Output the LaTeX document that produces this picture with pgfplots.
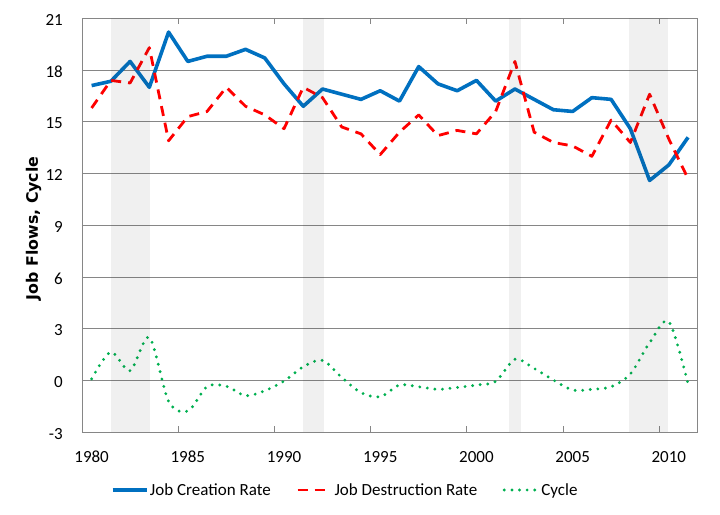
\documentclass[border=0pt]{standalone}
\usepackage{pgfplots}
\pgfplotsset{compat=1.18}
\usepackage{fontspec}
\setmainfont{Carlito}
\newfontfamily\labfont{DejaVu Sans}
\definecolor{jcblue}{HTML}{0070C0}
\definecolor{jdred}{HTML}{FF0000}
\definecolor{cygreen}{HTML}{00B050}
\definecolor{gridgray}{HTML}{868686}
\pgfplotstableread{
x jc jd cy
1980.5 17.1 15.8 0.1
1981.5 17.35 17.4 1.65
1982.5 18.5 17.25 0.57
1983.5 17.0 19.3 2.5
1984.5 20.2 13.9 -1.2
1985.5 18.5 15.3 -1.77
1986.5 18.8 15.6 -0.35
1987.5 18.8 17.0 -0.33
1988.5 19.2 15.9 -0.88
1989.5 18.7 15.4 -0.59
1990.5 17.2 14.6 -0.03
1991.5 15.9 17.0 0.8
1992.5 16.9 16.4 1.17
1993.5 16.6 14.7 0.18
1994.5 16.3 14.3 -0.7
1995.5 16.8 13.1 -0.94
1996.5 16.2 14.4 -0.26
1997.5 18.2 15.4 -0.36
1998.5 17.2 14.2 -0.51
1999.5 16.8 14.5 -0.4
2000.5 17.4 14.3 -0.26
2001.5 16.2 15.6 -0.05
2002.5 16.9 18.5 1.23
2003.5 16.3 14.4 0.7
2004.5 15.7 13.8 0.03
2005.5 15.6 13.6 -0.55
2006.5 16.4 13.0 -0.51
2007.5 16.3 15.1 -0.36
2008.5 14.6 13.8 0.38
2009.5 11.6 16.6 2.19
2010.5 12.5 14.0 3.41
2011.5 14.1 11.7 -0.2
}\data
\begin{document}
\begin{tikzpicture}
\useasboundingbox (-82pt,-81.7pt) rectangle (638pt,432.3pt);
\begin{axis}[
  scale only axis,
  width=615.7pt, height=414pt,
  xmin=1980, xmax=2012,
  ymin=-3, ymax=21,
  axis line style={gridgray, line width=0.8pt},
  ytick={-3,0,...,21},
  yticklabels={-3,0,3,6,9,12,15,18,21},
  ymajorgrids,
  major grid style={gridgray, line width=0.8pt},
  ytick style={draw=none},
  xtick={1980.5,1985.5,1990.5,1995.5,2000.5,2005.5,2010.5},
  xticklabels={1980,1985,1990,1995,2000,2005,2010},
  xtick style={draw=none},
  extra x ticks={1985,1990,1995,2000,2005,2010},
  extra x tick labels={},
  extra x tick style={xtick style={draw=gridgray, line width=0.8pt}, major tick length=6pt, tick align=inside, grid=none},
  xticklabel style={font=\fontsize{17}{20}\selectfont, anchor=base, inner sep=0pt, yshift=-30.4pt},
  yticklabel style={font=\fontsize{17}{20}\selectfont, anchor=east, inner sep=0pt, xshift=-19pt, yshift=-1.5pt},
  ylabel={\labfont\bfseries Job Flows, Cycle},
  ylabel style={at={(axis description cs:-0.0715,0.4928)}, rotate=0, anchor=base, font=\fontsize{15.8}{18}\selectfont},
  legend columns=3,
  legend style={draw=none, fill=none, at={(0.0466,-0.1394)}, anchor=west, inner sep=0pt,
    font=\fontsize{17}{20}\selectfont,
    nodes={inner sep=1.5pt},
    /tikz/every even column/.append style={column sep=24pt}},
  legend image code/.code={\draw[#1] (0pt,0pt) -- (34pt,0pt);},
  clip=true,
]
\addplot[jcblue, line width=3.6pt, line join=round] table[x=x, y=jc] {\data};
\addlegendentry{Job Creation Rate}
\addplot[jdred, line width=2.8pt, dash pattern=on 10pt off 7pt, line join=round] table[x=x, y=jd] {\data};
\addlegendentry{Job Destruction Rate}
\addplot[cygreen, line width=3.2pt, line cap=round, dash pattern=on 0pt off 7.6pt, smooth, tension=0.5] table[x=x, y=cy] {\data};
\addlegendentry{Cycle}
\addplot[forget plot, draw=none, fill=black!80!white, fill opacity=0.075] coordinates {(1981.5,-3) (1983.55,-3) (1983.55,21) (1981.5,21)} -- cycle;
\addplot[forget plot, draw=none, fill=black!80!white, fill opacity=0.075] coordinates {(1991.47,-3) (1992.6,-3) (1992.6,21) (1991.47,21)} -- cycle;
\addplot[forget plot, draw=none, fill=black!80!white, fill opacity=0.075] coordinates {(2002.2,-3) (2002.8,-3) (2002.8,21) (2002.2,21)} -- cycle;
\addplot[forget plot, draw=none, fill=black!80!white, fill opacity=0.075] coordinates {(2008.45,-3) (2010.45,-3) (2010.45,21) (2008.45,21)} -- cycle;
\end{axis}
\end{tikzpicture}
\end{document}
